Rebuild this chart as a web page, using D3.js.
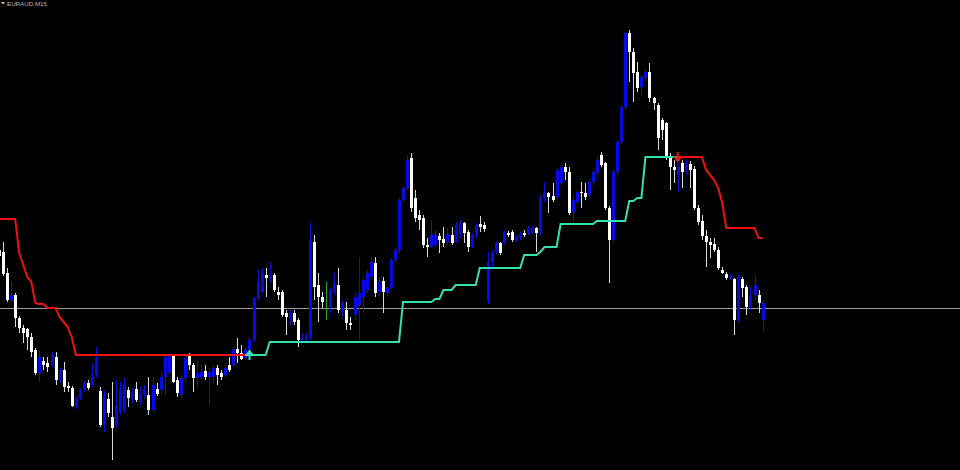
<!DOCTYPE html>
<html><head><meta charset="utf-8">
<script src="https://cdn.jsdelivr.net/npm/d3@7"></script>
<style>html,body{margin:0;padding:0;background:#000;overflow:hidden}svg{display:block}</style>
</head><body>
<svg id="c" width="960" height="470"></svg>
<script>
const symbol = "EURAUD,M15";
// prices in points (price = value / 10000)
const open = [16280,16278,16257,16230,16235,16212,16202,16201,16193,16180,
16157,16169,16167,16165,16173,16150,16160,16144,16142,16123,
16132,16140,16147,16145,16155,16139,16105,16131,16113,16105,
16118,16120,16140,16130,16141,16128,16135,16135,16120,16141,
16140,16153,16158,16175,16150,16135,16152,16174,16165,16152,
16153,16159,16153,16153,16162,16157,16155,16165,16165,16181,
16177,16172,16180,16190,16232,16238,16255,16252,16255,16238,
16238,16217,16212,16217,16210,16190,16190,16193,16288,16245,
16233,16230,16223,16238,16245,16218,16220,16207,16215,16225,
16233,16240,16253,16267,16238,16249,16237,16242,16270,16280,
16330,16342,16372,16332,16315,16312,16285,16283,16285,16294,
16291,16288,16295,16288,16297,16307,16298,16283,16295,16306,
16305,16228,16268,16278,16287,16287,16297,16298,16290,16292,
16297,16297,16297,16302,16297,16332,16337,16334,16333,16347,
16363,16358,16318,16328,16338,16337,16335,16348,16357,16375,
16367,16322,16290,16358,16388,16423,16497,16478,16458,16443,
16452,16458,16432,16425,16410,16407,16372,16363,16355,16367,
16360,16366,16361,16322,16309,16294,16288,16286,16280,16260,
16256,16252,16251,16210,16251,16243,16223,16235,16235,16210];
const high = [16282,16288,16262,16248,16237,16214,16205,16202,16197,16182,
16180,16173,16173,16178,16178,16162,16168,16148,16144,16134,
16142,16149,16150,16167,16183,16143,16140,16137,16148,16150,
16148,16152,16143,16142,16148,16143,16145,16153,16153,16147,
16158,16175,16176,16176,16153,16155,16175,16177,16167,16170,
16165,16165,16162,16164,16165,16160,16165,16173,16183,16192,
16185,16182,16193,16233,16260,16262,16262,16268,16257,16243,
16240,16220,16220,16220,16212,16197,16197,16307,16295,16257,
16238,16248,16242,16257,16262,16230,16228,16213,16238,16273,
16253,16260,16273,16273,16253,16253,16243,16272,16282,16332,
16343,16375,16377,16340,16320,16315,16292,16310,16300,16297,
16303,16302,16303,16307,16310,16308,16300,16297,16307,16314,
16308,16278,16280,16288,16288,16300,16299,16300,16295,16298,
16300,16304,16304,16303,16335,16348,16338,16347,16362,16365,
16367,16363,16333,16340,16348,16347,16350,16360,16373,16378,
16368,16324,16360,16390,16425,16498,16500,16482,16468,16455,
16460,16467,16433,16427,16412,16408,16377,16370,16367,16370,
16370,16369,16364,16325,16315,16300,16292,16292,16283,16263,
16258,16256,16252,16255,16253,16245,16243,16255,16240,16230];
const low = [16270,16254,16228,16228,16203,16197,16187,16180,16173,16155,
16148,16160,16158,16163,16145,16147,16138,16138,16123,16121,
16130,16138,16140,16143,16152,16103,16098,16113,16070,16102,
16115,16117,16123,16127,16128,16125,16132,16115,16118,16134,
16135,16135,16156,16147,16133,16132,16148,16160,16138,16143,
16150,16150,16125,16147,16145,16150,16152,16158,16163,16167,
16170,16170,16178,16188,16230,16237,16233,16247,16238,16230,
16213,16195,16205,16205,16183,16187,16187,16190,16230,16208,
16222,16210,16217,16235,16217,16213,16200,16200,16210,16190,
16217,16237,16250,16233,16233,16217,16233,16240,16268,16277,
16328,16340,16318,16308,16300,16282,16273,16282,16282,16277,
16283,16285,16285,16287,16292,16287,16278,16282,16292,16298,
16298,16226,16263,16276,16275,16285,16293,16288,16288,16290,
16293,16295,16296,16278,16295,16328,16317,16328,16330,16345,
16350,16315,16308,16326,16322,16330,16333,16345,16355,16363,
16320,16247,16288,16355,16386,16420,16448,16428,16438,16433,
16448,16428,16420,16380,16390,16370,16340,16347,16338,16342,
16355,16342,16320,16305,16290,16263,16272,16278,16260,16256,
16250,16250,16195,16208,16233,16215,16220,16230,16217,16198];
const close = [16274,16256,16230,16235,16212,16202,16197,16193,16178,16157,
16173,16165,16163,16175,16150,16160,16143,16142,16124,16132,
16140,16147,16142,16155,16173,16105,16135,16117,16102,16125,
16140,16145,16132,16138,16130,16137,16140,16120,16145,16136,
16153,16173,16175,16148,16137,16152,16172,16165,16152,16157,
16158,16153,16158,16162,16155,16153,16162,16160,16181,16177,
16171,16180,16190,16232,16248,16257,16252,16255,16240,16235,
16215,16213,16217,16208,16190,16192,16193,16290,16243,16233,
16228,16230,16240,16247,16220,16227,16207,16205,16233,16237,
16250,16257,16268,16237,16248,16238,16242,16270,16280,16330,
16342,16370,16322,16312,16310,16285,16283,16295,16295,16290,
16287,16296,16287,16305,16307,16297,16283,16295,16305,16303,
16301,16268,16277,16287,16277,16298,16295,16290,16293,16296,
16295,16302,16302,16297,16333,16337,16333,16330,16360,16363,
16358,16317,16330,16338,16337,16333,16348,16358,16370,16365,
16322,16290,16358,16388,16423,16497,16478,16457,16442,16453,
16458,16432,16427,16392,16400,16373,16363,16360,16363,16358,
16366,16360,16322,16308,16294,16288,16285,16280,16262,16257,
16252,16254,16210,16253,16242,16223,16235,16245,16227,16227];

// SuperTrend buffers (down = red, up = aqua), with their first bar index
const stDownLeftStart = 0;
const stDownLeft = [16311,16311,16311,16311,16311,16277,16265,16253,16248,16227,
16226,16226,16222,16222,16222,16213,16208,16203,16193,16175,
16175,16175,16175,16175,16175,16175,16175,16175,16175,16175,
16175,16175,16175,16175,16175,16175,16175,16175,16175,16175,
16175,16175,16175,16175,16175,16175,16175,16175,16175,16175,
16175,16175,16175,16175,16175,16175,16175,16175,16175,16175,
16175,16175];
const stUpStart = 61;
const stUp = [16175,16175,16175,16175,16175,16175,
16188,16188,16188,16188,16188,16188,16188,16188,16188,16188,16188,
16188,16188,16188,16188,16188,16188,16188,16188,16188,16188,16188,
16188,16188,16188,16188,16188,16188,16188,16188,16188,16188,16188,
16228,16228,16228,16228,16228,16228,16228,16228,
16231,16231,16240,16240,16240,
16245,16245,16245,16245,16245,16245,
16262,16262,16262,16262,16262,16262,16262,16262,16262,16262,16262,
16275,16275,16275,16275,16278,16283,16283,16283,16283,
16306,16306,16306,16306,16306,16306,16306,16306,16306,
16309,16309,16309,16309,16309,16309,16309,16309,
16329,16329,16332,16332,
16373,16373,16373,16373,16373,16373,16373,16373,16373];
const stDownRightStart = 168;
const stDownRight = [16373,16373,16373,16373,16373,16373,16373,16360,16355,16350,
16342,16327,16302,16302,16302,16302,16302,16302,16302,16302,16292,16292];

const bidPrice = 16222;
const buySignalBar = 62, sellSignalBar = 168;

const W = 960, H = 470;
const svg = d3.select("#c");
svg.append("rect").attr("width", W).attr("height", H).attr("fill", "#000");

const N = open.length;
const x = d3.scaleLinear().domain([0, N - 1]).range([-1, 762.6]);
const y = d3.scaleLinear().domain([16530, 16060]).range([0, H]);

// bid line
svg.append("line").attr("x1", 0).attr("x2", W)
  .attr("y1", Math.round(y(bidPrice)) + 0.5).attr("y2", Math.round(y(bidPrice)) + 0.5)
  .attr("stroke", "#9a9a9a").attr("stroke-width", 1);

const bars = d3.range(N).map(i => ({i, o: open[i], h: high[i], l: low[i], c: close[i]}));
const col = d => d.c > d.o ? "#0808e8" : (d.c < d.o ? "#ffffff" : "#22a822");
const wickCol = d => d.c > d.o ? "#1010d0" : (d.c < d.o ? "#d8d8d8" : "#22a822");

const g = svg.append("g").attr("shape-rendering", "crispEdges");
g.selectAll("line.w").data(bars).join("line").attr("class", "w")
  .attr("x1", d => Math.round(x(d.i)) + 0.5).attr("x2", d => Math.round(x(d.i)) + 0.5)
  .attr("y1", d => y(d.h)).attr("y2", d => y(d.l))
  .attr("stroke", wickCol).attr("stroke-width", 1);
g.selectAll("rect.b").data(bars.filter(d => d.c !== d.o)).join("rect").attr("class", "b")
  .attr("x", d => Math.round(x(d.i)) - 1).attr("width", 3)
  .attr("y", d => y(Math.max(d.o, d.c)))
  .attr("height", d => Math.max(1, Math.abs(y(d.o) - y(d.c))))
  .attr("fill", col);

// supertrend lines
const line = d3.line().x(d => x(d.i)).y(d => y(d.v));
const seg = (arr, start) => arr.map((v, k) => ({i: start + k, v}));
svg.append("path").datum(seg(stDownLeft, stDownLeftStart)).attr("d", line)
  .attr("fill", "none").attr("stroke", "#f01010").attr("stroke-width", 2);
svg.append("path").datum(seg(stUp, stUpStart)).attr("d", line)
  .attr("fill", "none").attr("stroke", "#34e0b0").attr("stroke-width", 2);
svg.append("path").datum(seg(stDownRight, stDownRightStart)).attr("d", line)
  .attr("fill", "none").attr("stroke", "#f01010").attr("stroke-width", 2);

// signal arrows
const ux = x(buySignalBar), uy = y(stUp[buySignalBar - stUpStart]);
svg.append("path")
  .attr("d", `M${ux-4},${uy+1} L${ux},${uy-4} L${ux+4},${uy+1} M${ux},${uy-3} L${ux},${uy+5}`)
  .attr("fill", "none").attr("stroke", "#34e0b0").attr("stroke-width", 2);
const dx = x(sellSignalBar), dy = y(stDownRight[0]);
svg.append("path")
  .attr("d", `M${dx-4},${dy-1} L${dx},${dy+4} L${dx+4},${dy-1} M${dx},${dy+3} L${dx},${dy-5}`)
  .attr("fill", "none").attr("stroke", "#f01010").attr("stroke-width", 2);

// title
svg.append("path").attr("d", "M1,2 L5,2 L3,4.5 Z").attr("fill", "#c8c8c8");
svg.append("text").attr("x", 7).attr("y", 6).text(symbol)
  .attr("fill", "#b8b8b8").attr("font-family", "Liberation Sans, sans-serif")
  .attr("font-size", 6.2).attr("textLength", 40).attr("lengthAdjust", "spacingAndGlyphs");
</script>
</body></html>
